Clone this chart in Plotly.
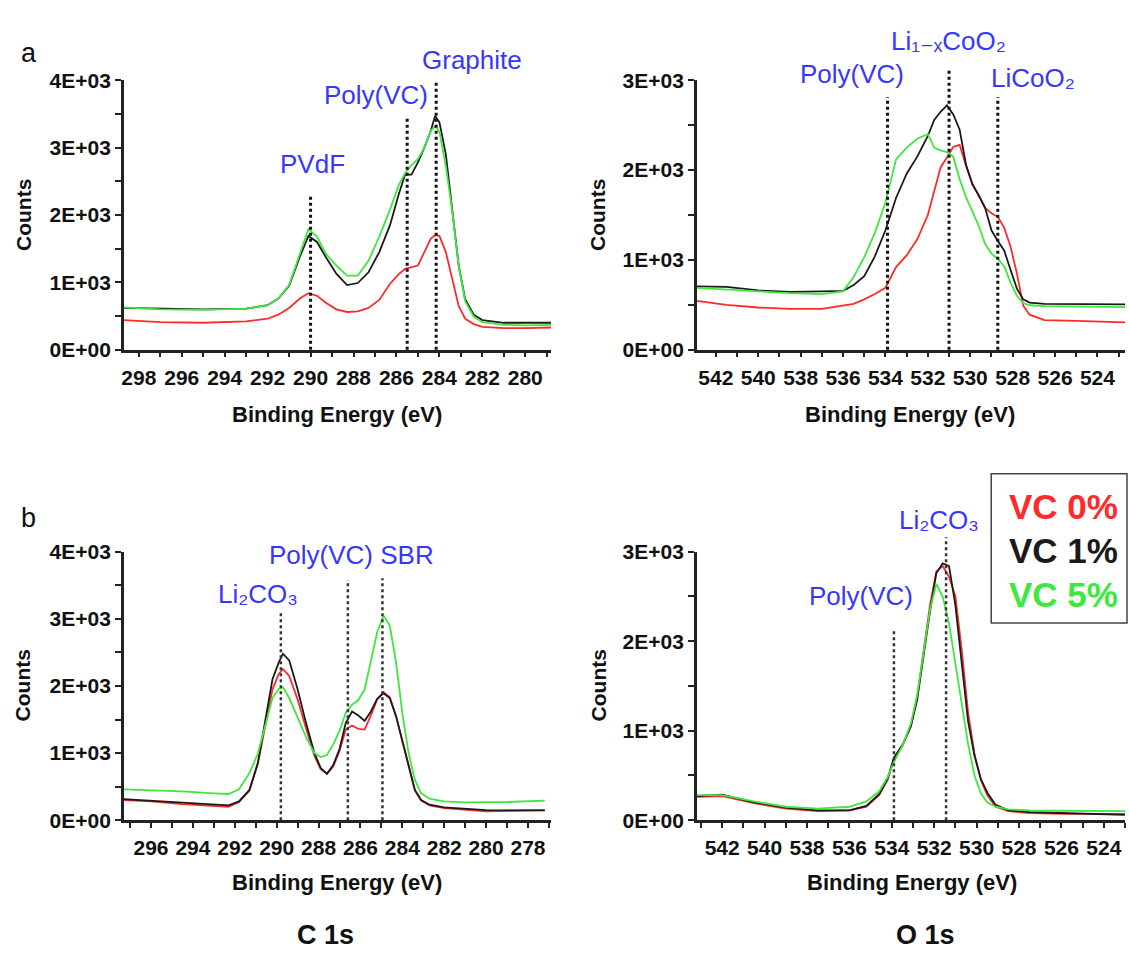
import plotly.graph_objects as go

# ---------------- data ----------------
# (a) C 1s
a_c_energy = [298.7, 297, 295, 293, 292, 291.5, 291, 290.5, 290.1, 289.7, 289.3, 288.8, 288.3, 287.8,
              287.3, 286.8, 286.3, 285.9, 285.6, 285.3, 285.0, 284.7, 284.4, 284.2, 284.0, 283.7,
              283.4, 283.1, 282.8, 282.4, 282.0, 281.0, 280.0, 278.8]
a_c_vc0 = [440, 410, 400, 420, 460, 520, 620, 760, 840, 800, 700, 600, 560, 570,
           620, 740, 980, 1120, 1200, 1220, 1250, 1450, 1650, 1700, 1690, 1450,
           1050, 650, 460, 380, 340, 320, 320, 330]
a_c_vc1 = [620, 610, 600, 610, 660, 760, 950, 1380, 1690, 1600, 1380, 1130, 960, 990,
           1150, 1450, 1850, 2300, 2600, 2600, 2780, 3000, 3250, 3470, 3380, 2900,
           2100, 1250, 750, 520, 440, 400, 400, 400]
a_c_vc5 = [630, 600, 590, 610, 660, 760, 960, 1420, 1790, 1680, 1430, 1250, 1100, 1100,
           1320, 1680, 2080, 2440, 2620, 2740, 2830, 3000, 3250, 3320, 3240, 2730,
           2050, 1250, 720, 490, 410, 370, 360, 370]
a_c_markers = [290.0, 285.5, 284.15]
a_c_marker_tops = [2300, 3450, 3970]

# (a) O 1s
a_o_energy = [542.9, 541.5, 540, 538.5, 537, 536, 535.5, 535, 534.5, 534, 533.5, 533, 532.5, 532,
              531.7, 531.4, 531.1, 530.8, 530.5, 530.2, 529.9, 529.6, 529.3, 529, 528.7, 528.4,
              528.1, 527.8, 527.5, 527.2, 526.5, 525, 524, 522.7]
a_o_vc0 = [543, 500, 470, 455, 455, 490, 510, 560, 620, 690, 920, 1050, 1230, 1500,
           1780, 2030, 2140, 2260, 2280, 2050, 1850, 1720, 1580, 1520, 1480, 1360,
           1150, 850, 490, 390, 330, 320, 315, 305]
a_o_vc1 = [706, 700, 660, 645, 650, 655, 720, 820, 1040, 1330, 1690, 1960, 2150, 2380,
           2560, 2650, 2720, 2620, 2450, 2060, 1840, 1720, 1580, 1330, 1210, 1105,
           890, 680, 560, 525, 510, 505, 505, 505]
a_o_vc5 = [688, 670, 650, 630, 620, 650, 810, 1030, 1300, 1640, 2120, 2250, 2350, 2400,
           2250, 2220, 2200, 2150, 1900, 1700, 1540, 1380, 1180, 1070, 1010, 930,
           750, 600, 520, 495, 485, 480, 475, 475]
a_o_markers = [533.9, 531.0, 528.7]
a_o_marker_tops = [2815, 3127, 2815]

# (b) C 1s
b_c_energy = [297.3, 296, 294.5, 293, 292.3, 291.8, 291.3, 290.9, 290.5, 290.2, 289.9, 289.7, 289.4,
              289.0, 288.6, 288.2, 287.9, 287.6, 287.3, 287.0, 286.7, 286.4, 286.1, 285.8, 285.5,
              285.2, 284.9, 284.6, 284.3, 284.0, 283.7, 283.4, 283.1, 282.7, 282, 281, 280, 279, 277.2]
b_c_vc0 = [300, 280, 240, 210, 200, 270, 440, 840, 1500, 1950, 2180, 2250, 2150,
           1800, 1370, 960, 760, 690, 800, 1030, 1350, 1410, 1360, 1350, 1560,
           1800, 1910, 1830, 1550, 1170, 780, 440, 290, 220, 180, 150, 130, 140, 150]
b_c_vc1 = [314, 290, 260, 230, 220, 280, 450, 850, 1550, 2100, 2350, 2480, 2380,
           1950, 1450, 1000, 780, 690, 820, 1060, 1450, 1620, 1560, 1480, 1620,
           1810, 1890, 1820, 1550, 1180, 800, 450, 300, 230, 190, 170, 150, 145, 145]
b_c_vc5 = [460, 450, 430, 400, 390, 460, 700, 990, 1450, 1820, 1960, 1980, 1820,
           1530, 1240, 1000, 940, 970, 1130, 1330, 1600, 1720, 1790, 1950, 2400,
           2800, 3050, 2900, 2350, 1600, 1000, 600, 400, 320, 280, 265, 270, 270, 290]
b_c_markers = [289.8, 286.6, 284.95]
b_c_marker_tops = [3096, 3579, 3604]

# (b) O 1s
b_o_energy = [543.2, 542, 540.5, 539, 537.5, 536, 535.2, 534.6, 534.2, 533.9, 533.5, 533.1, 532.8,
              532.5, 532.2, 531.9, 531.6, 531.3, 531.0, 530.7, 530.4, 530.1, 529.8, 529.5, 529.1,
              528.5, 527.5, 526, 524.5, 523.0]
b_o_vc0 = [260, 270, 190, 130, 100, 110, 150, 280, 450, 680, 830, 1050, 1380,
           1900, 2400, 2780, 2840, 2720, 2500, 1900, 1200, 740, 450, 280, 150,
           100, 80, 70, 70, 70]
b_o_vc1 = [270, 285, 200, 140, 110, 110, 160, 290, 460, 700, 840, 1050, 1350,
           1850, 2330, 2760, 2870, 2840, 2400, 1750, 1100, 720, 460, 310, 170,
           110, 90, 80, 70, 60]
b_o_vc5 = [280, 280, 210, 150, 130, 150, 210, 320, 480, 650, 830, 1080, 1400,
           1900, 2350, 2640, 2500, 2200, 1750, 1300, 850, 500, 300, 200, 150,
           120, 110, 105, 100, 100]
b_o_markers = [533.9, 531.44]
b_o_marker_tops = [2143, 3162]

series_names = ["VC 0%", "VC 1%", "VC 5%"]
series_colors = ["#ff2a2a", "#1a1a1a", "#3ee83e"]

y_left_vals = [0, 1000, 2000, 3000, 4000]
y_left_text = ["0E+00", "1E+03", "2E+03", "3E+03", "4E+03"]
y_right_vals = [0, 1000, 2000, 3000]
y_right_text = ["0E+00", "1E+03", "2E+03", "3E+03"]

# ---------------- layout geometry ----------------
W, H = 1129, 960
def px(x):
    return x / W
def py(y):
    return 1 - y / H

xd_left = [px(122), px(550)]
xd_right = [px(696), px(1125)]
yd_top = [py(346), py(70)]
yd_bot = [py(828), py(553)]

BLUE = "#3636ff"
FONT = "Liberation Sans, Arial, DejaVu Sans, sans-serif"
TICK_SIZE = 21

panels = [
    dict(n="", e=a_c_energy, s=[a_c_vc0, a_c_vc1, a_c_vc5], xr=[298.7, 278.8], ymax=4000,
         yv=y_left_vals, yt=y_left_text, xd=xd_left, yd=yd_top,
         mk=a_c_markers, mt=a_c_marker_tops, mw=3, mc="#111111"),
    dict(n="2", e=a_o_energy, s=[a_o_vc0, a_o_vc1, a_o_vc5], xr=[542.9, 522.7], ymax=3000,
         yv=y_right_vals, yt=y_right_text, xd=xd_right, yd=yd_top,
         mk=a_o_markers, mt=a_o_marker_tops, mw=3, mc="#111111"),
    dict(n="3", e=b_c_energy, s=[b_c_vc0, b_c_vc1, b_c_vc5], xr=[297.3, 276.9], ymax=4000,
         yv=y_left_vals, yt=y_left_text, xd=xd_left, yd=yd_bot,
         mk=b_c_markers, mt=b_c_marker_tops, mw=2.5, mc="#333333"),
    dict(n="4", e=b_o_energy, s=[b_o_vc0, b_o_vc1, b_o_vc5], xr=[543.2, 523.0], ymax=3000,
         yv=y_right_vals, yt=y_right_text, xd=xd_right, yd=yd_bot,
         mk=b_o_markers, mt=b_o_marker_tops, mw=2.5, mc="#333333"),
]

fig = go.Figure()
shapes = []
layout_axes = {}
for p in panels:
    xa, ya = "x" + p["n"], "y" + p["n"]
    for name, color, vals in zip(series_names, series_colors, p["s"]):
        fig.add_trace(go.Scatter(x=p["e"], y=vals, mode="lines", name=name,
                                 line=dict(color=color, width=1.8),
                                 xaxis=xa, yaxis=ya, showlegend=False))
    layout_axes["xaxis" + p["n"]] = dict(
        domain=p["xd"], anchor=ya, range=p["xr"], tickmode="linear", tick0=0, dtick=2,
        showline=True, linecolor="#222222", linewidth=2.5, showgrid=False, zeroline=False,
        ticks="outside", ticklen=5, tickwidth=2, tickcolor="#222222",
        minor=dict(tickmode="linear", tick0=0, dtick=1, ticks="outside", ticklen=5,
                   tickwidth=2, tickcolor="#222222"),
        tickfont=dict(family=FONT, size=TICK_SIZE, color="#111111", weight="bold"),
        ticklabelstandoff=2,
    )
    layout_axes["yaxis" + p["n"]] = dict(
        domain=p["yd"], anchor=xa, range=[0, p["ymax"]], tickmode="array",
        tickvals=p["yv"], ticktext=p["yt"],
        showline=True, linecolor="#222222", linewidth=2.5, showgrid=False, zeroline=False,
        ticks="outside", ticklen=6, tickwidth=2, tickcolor="#222222",
        minor=dict(tickmode="linear", tick0=0, dtick=500, ticks="outside", ticklen=6,
                   tickwidth=2, tickcolor="#222222"),
        tickfont=dict(family=FONT, size=TICK_SIZE, color="#111111", weight="bold"),
    )
    y0, y1 = p["yd"]
    for xv, top in zip(p["mk"], p["mt"]):
        shapes.append(dict(type="line", xref=xa, yref="paper", x0=xv, x1=xv,
                           y0=y0, y1=y0 + (y1 - y0) * top / p["ymax"],
                           line=dict(color=p["mc"], width=p["mw"], dash="dot"), layer="above"))

# legend box
shapes.append(dict(type="rect", xref="paper", yref="paper", x0=px(991), x1=px(1127),
                   y0=py(626), y1=py(473), line=dict(color="#444444", width=1.5),
                   fillcolor="white", layer="above"))

ann = []
def add_text(text, x, y, size, color="#111111", bold=False, angle=0, xanchor="center"):
    ann.append(dict(text=text, x=px(x), y=py(y), xref="paper", yref="paper", showarrow=False,
                    xanchor=xanchor, yanchor="middle", textangle=angle,
                    font=dict(family=FONT, size=size, color=color,
                              weight="bold" if bold else "normal")))

# axis titles
for (cx, cy) in [(21, 208), (596, 208), (21, 690), (598, 690)]:
    add_text("Counts", cx, cy, 21, bold=True, angle=-90)
for (cx, cy) in [(336, 412), (910, 412), (336, 892), (912, 892)]:
    add_text("Binding Energy (eV)", cx, cy, 22, bold=True)

add_text("C 1s", 324, 946, 27, bold=True)
add_text("O 1s", 925, 946, 27, bold=True)
add_text("a", 27, 42, 27)
add_text("b", 27, 518, 27)

# peak labels
LBL = 26
add_text("PVdF", 311, 156, LBL, BLUE)
add_text("Poly(VC)", 375, 85, LBL, BLUE)
add_text("Graphite", 471, 49, LBL, BLUE)
add_text("Poly(VC)", 852, 64, LBL, BLUE)
add_text("Li\u2081\u208b\u2093CoO\u2082", 948, 30, LBL, BLUE)
add_text("LiCoO\u2082", 1033, 68, LBL, BLUE)
add_text("Li\u2082CO\u2083", 256, 596, LBL, BLUE)
add_text("Poly(VC) SBR", 350, 556, LBL, BLUE)
add_text("Li\u2082CO\u2083", 939, 520, LBL, BLUE)
add_text("Poly(VC)", 861, 598, LBL, BLUE)

# legend texts
for name, color, yy in zip(series_names, series_colors, [507, 552, 597]):
    add_text(name, 1007, yy, 35, color, bold=True, xanchor="left")

fig.update_layout(
    width=W, height=H, margin=dict(l=0, r=0, t=0, b=0),
    paper_bgcolor="white", plot_bgcolor="white",
    shapes=shapes, annotations=ann, showlegend=False,
    **layout_axes,
)

fig.write_html("out.html", config={"displayModeBar": False},
               post_script="document.body.style.margin='0';document.body.style.overflow='hidden';")
